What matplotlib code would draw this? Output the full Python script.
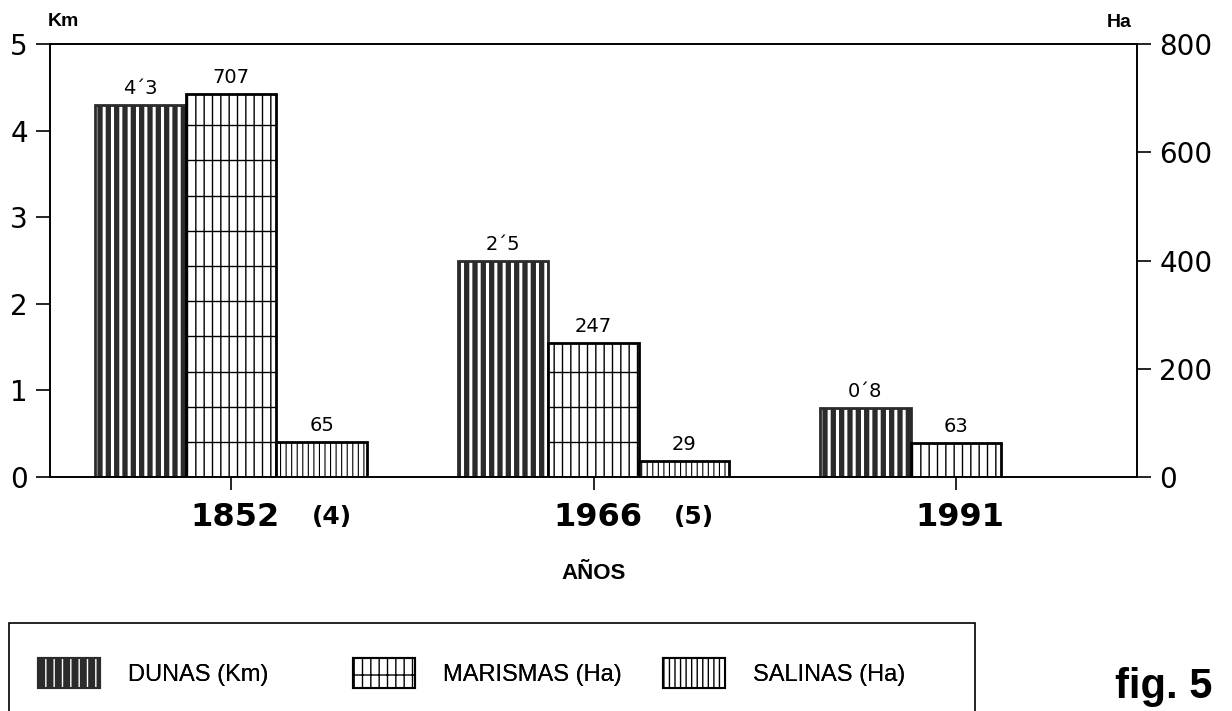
import numpy as np
import matplotlib.pyplot as plt
from matplotlib.patches import Patch, Rectangle

# datos de la figura
years = ['1852', '1966', '1991']
refs = ['(4)', '(5)', '']
dunas_km = [4.3, 2.5, 0.8]
dunas_txt = ['4\u00b43', '2\u00b45', '0\u00b48']
marismas_ha = [707, 247, 63]
salinas_ha = [65, 29]
legend_labels = ['DUNAS (Km)', 'MARISMAS (Ha)', 'SALINAS (Ha)']

plt.rcParams['font.family'] = ['Liberation Sans', 'DejaVu Sans']
plt.rcParams['hatch.linewidth'] = 1.0

dark = '#2b2b2b'
w = 0.25
x = np.arange(len(years))


def hatch_lw(patches, lw):
    for p in patches:
        if hasattr(p, 'set_hatch_linewidth'):
            p.set_hatch_linewidth(lw)


fig = plt.figure(figsize=(12.32, 7.11), dpi=100)
ax = fig.add_axes([0.0406, 0.329, 0.8823, 0.609])
ax2 = ax.twinx()

# dunas: barra oscura con rayas blancas
b1 = ax.bar(x - w, dunas_km, w, color=dark, edgecolor='white', hatch='||', linewidth=0)
hatch_lw(b1, 2.2)
ax.bar(x - w, dunas_km, w, fill=False, edgecolor=dark, linewidth=2)
for xi, v, t in zip(x, dunas_km, dunas_txt):
    ax.annotate(t, (xi - w, v), xytext=(0, 5), textcoords='offset points',
                ha='center', va='bottom', fontsize=14, family='DejaVu Sans')

# marismas: cuadricula
b2 = ax2.bar(x, marismas_ha, w, facecolor='white', edgecolor='black', hatch='||', linewidth=2)
hatch_lw(b2, 1.0)
grid_step = 65
for bar, v in zip(b2, marismas_ha):
    ys = np.arange(grid_step, v, grid_step)
    lc = ax2.hlines(ys, bar.get_x(), bar.get_x() + bar.get_width(), color='black', lw=1.0)
    lc.set_clip_path(bar)
for xi, v in zip(x, marismas_ha):
    ax2.annotate(str(v), (xi, v), xytext=(0, 5), textcoords='offset points',
                 ha='center', va='bottom', fontsize=14, family='DejaVu Sans')

# salinas: rayado fino
xs = x[:len(salinas_ha)] + w
b3 = ax2.bar(xs, salinas_ha, w, facecolor='white', edgecolor='black', hatch='|||', linewidth=2)
hatch_lw(b3, 0.8)
for xi, v in zip(xs, salinas_ha):
    ax2.annotate(str(v), (xi, v), xytext=(0, 5), textcoords='offset points',
                 ha='center', va='bottom', fontsize=14, family='DejaVu Sans')

ax.set_xlim(-0.5, 2.5)
ax.set_ylim(0, 5)
ax2.set_ylim(0, 800)
ax.set_yticks(range(0, 6))
ax2.set_yticks(range(0, 801, 200))
ax.set_xticks(x)
ax.set_xticklabels([])

for a in (ax, ax2):
    for s in a.spines.values():
        s.set_linewidth(1.2)
    a.tick_params(axis='y', direction='out', length=10, width=1.2, labelsize=20, pad=6)
    for lab in a.get_yticklabels():
        lab.set_family('DejaVu Sans')
ax.tick_params(axis='x', direction='out', length=9, width=1.2)

for xi, yr, rf in zip(x, years, refs):
    ax.annotate(yr, (xi, 0), xytext=(3, -29), textcoords='offset points',
                ha='center', va='center', fontsize=23, fontweight='bold', family='DejaVu Sans')
    if rf:
        ax.annotate(rf, (xi, 0), xytext=(58, -29), textcoords='offset points',
                    ha='left', va='center', fontsize=18, fontweight='bold', family='DejaVu Sans')

fig.text(0.482, 0.194, 'AÑOS', ha='center', va='center', fontsize=16, fontweight='bold')
fig.text(0.039, 0.970, 'Km', ha='left', va='center', fontsize=14, fontweight='bold')
fig.text(0.8985, 0.969, 'Ha', ha='left', va='center', fontsize=14, fontweight='bold')

# leyenda
fig.add_artist(Rectangle((0.007, -0.05), 0.784, 0.174, transform=fig.transFigure,
                         fill=False, edgecolor='black', linewidth=1.2))
handles = [
    (Patch(facecolor=dark, edgecolor='white', hatch='||', linewidth=0),
     Patch(fill=False, edgecolor=dark, linewidth=1.5)),
    Patch(facecolor='white', edgecolor='black', hatch='|+', linewidth=1.5),
    Patch(facecolor='white', edgecolor='black', hatch='|||', linewidth=1.5),
]
legend_x = [0.0308, 0.2865, 0.538]
for h, lab, lx in zip(handles, legend_labels, legend_x):
    leg = fig.legend([h], [lab], loc='center left', bbox_to_anchor=(lx, 0.053),
                     frameon=False, fontsize=17, handlelength=2.63, handleheight=1.6,
                     handletextpad=1.2, borderpad=0, borderaxespad=0)
    fig.add_artist(leg)

fig.text(0.905, 0.006, 'fig. 5', ha='left', va='bottom', fontsize=30, fontweight='bold')

fig.savefig('out.png', dpi=100)
